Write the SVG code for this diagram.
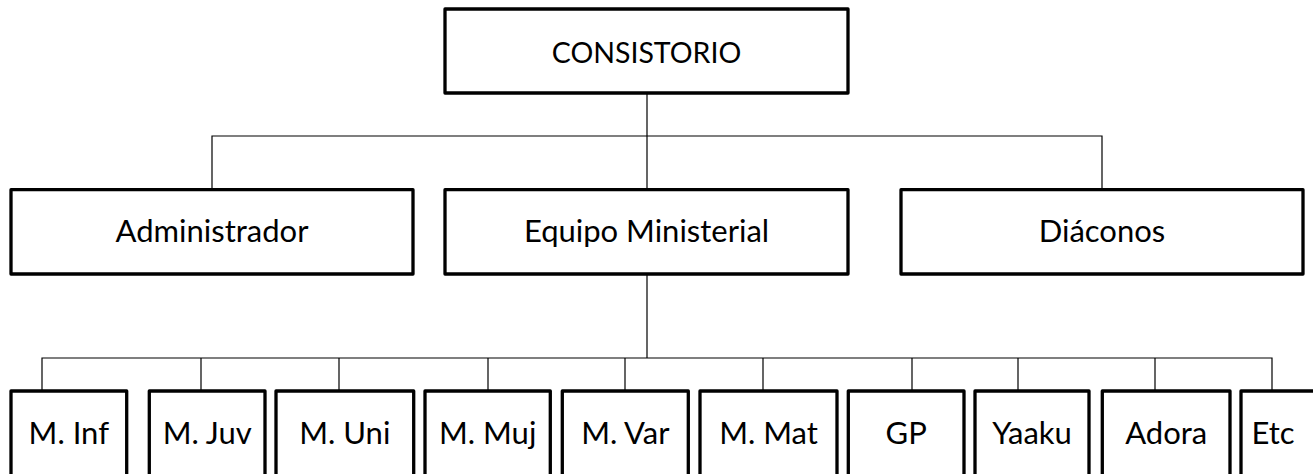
<svg xmlns="http://www.w3.org/2000/svg" width="1313" height="474" viewBox="0 0 1313 474">
<style>
.box{fill:#fff;stroke:#000;stroke-width:3.3;stroke-linejoin:round}
.t{font-family:Lato,"Open Sans","Liberation Sans",sans-serif;font-size:31px;fill:#000;text-anchor:middle}
.s{font-family:Lato,"Open Sans","Liberation Sans",sans-serif;font-size:31px;fill:#000;text-anchor:middle}
.c{stroke:#000;stroke-width:1.2;fill:none}
</style>
<rect width="1313" height="474" fill="#fff"/>
<g id="connectors" class="c">
<path d="M647 93V189M212 189V136H1102V189"/>
<path d="M647 274V358M42 390V358H1272V390M201 358V390M339 358V390M488 358V390M625 358V390M763 358V390M912 358V390M1018 358V390M1155 358V390"/>
</g>
<g id="consistorio"><rect class="box" x="445" y="9" width="403" height="84"/><text class="t" x="646.5" y="63.3" style="font-size:28.5px">CONSISTORIO</text></g>
<g id="administrador"><rect class="box" x="11" y="189.7" width="402" height="84.3"/><text class="t" x="212" y="241.7">Administrador</text></g>
<g id="equipo"><rect class="box" x="445" y="189.7" width="403" height="84.3"/><text class="t" x="646.5" y="241.7">Equipo Ministerial</text></g>
<g id="diaconos"><rect class="box" x="901" y="189.7" width="402" height="84.3"/><text class="t" x="1102" y="241.7">Diáconos</text></g>
<g id="m-inf"><rect class="box" x="11" y="391" width="115.7" height="100"/><text class="s" x="68.8" y="444">M. Inf</text></g>
<g id="m-juv"><rect class="box" x="149.3" y="391" width="115.7" height="100"/><text class="s" x="207.2" y="444">M. Juv</text></g>
<g id="m-uni"><rect class="box" x="276" y="391" width="137.7" height="100"/><text class="s" x="344.8" y="444">M. Uni</text></g>
<g id="m-muj"><rect class="box" x="425" y="391" width="125.3" height="100"/><text class="s" x="487.7" y="444">M. Muj</text></g>
<g id="m-var"><rect class="box" x="562.3" y="391" width="126" height="100"/><text class="s" x="625.3" y="444">M. Var</text></g>
<g id="m-mat"><rect class="box" x="700" y="391" width="137" height="100"/><text class="s" x="768.5" y="444">M. Mat</text></g>
<g id="gp"><rect class="box" x="848.3" y="391" width="115.7" height="100"/><text class="s" x="906.2" y="444">GP</text></g>
<g id="yaaku"><rect class="box" x="975" y="391" width="114" height="100"/><text class="s" x="1032" y="444">Yaaku</text></g>
<g id="adora"><rect class="box" x="1102.3" y="391" width="127.7" height="100"/><text class="s" x="1166.2" y="444">Adora</text></g>
<g id="etc"><rect class="box" x="1241" y="391" width="100" height="100"/><text class="s" x="1273" y="444">Etc</text></g>
</svg>
